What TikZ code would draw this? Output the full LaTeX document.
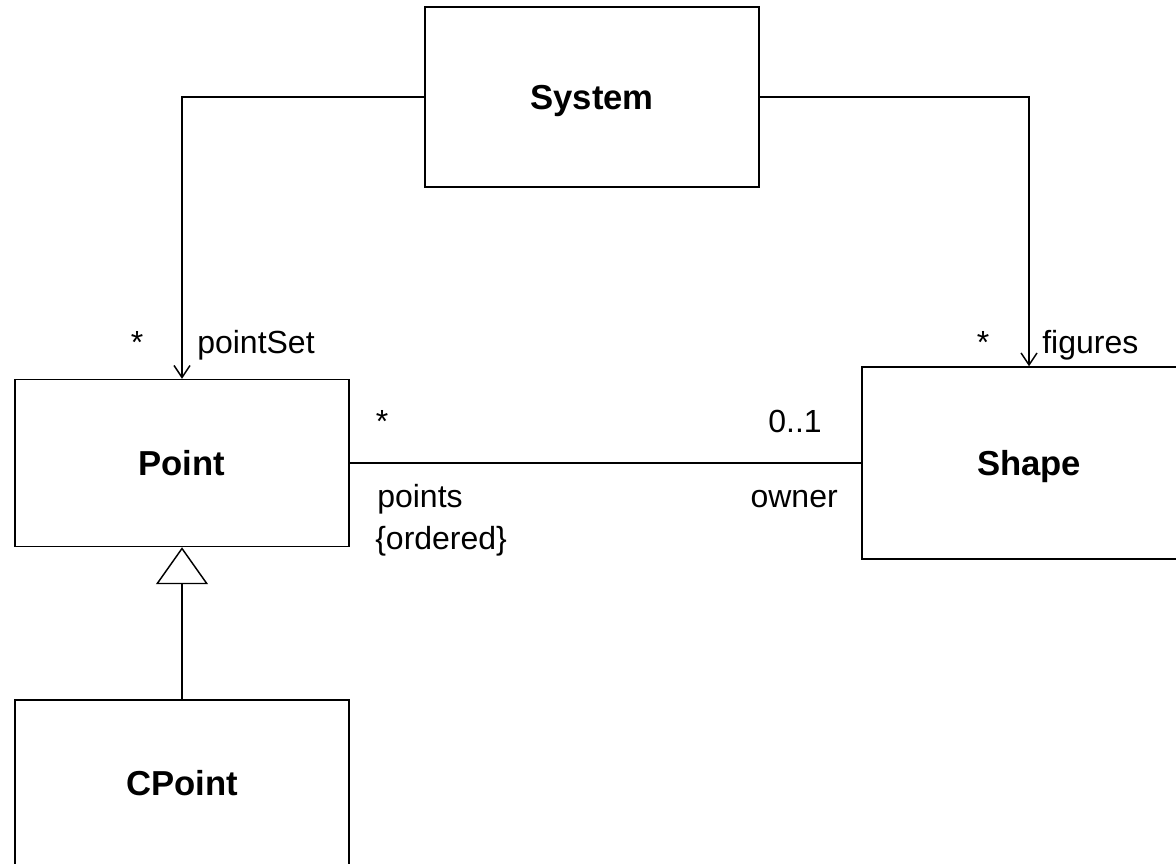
\documentclass[tikz,border=0pt]{standalone}
\usepackage{fontspec}
\setmainfont{Liberation Sans}
\usetikzlibrary{arrows.meta}

\begin{document}
\begin{tikzpicture}[x=0.75pt,y=0.75pt,yscale=-1,xscale=1,
        classbox/.style={draw,line width=1.1pt,inner sep=0pt,minimum width=250.5pt,text height=18.6pt,text depth=0pt,font=\fontsize{26}{31}\selectfont\bfseries},
        rolelbl/.style={inner sep=0pt,font=\fontsize{24}{29}\selectfont},
        navarrow/.style={line width=1.1pt,-{Straight Barb[length=9pt,width=12pt,line width=1.1pt]}},
        inherits/.style={line width=1.1pt,-{Triangle[open,length=27.75pt,width=39pt,line width=1.1pt]}}]
        \clip (0,0) rectangle (1176,863);

        %Classes
        \node (system) [classbox,minimum height=135pt] at (592,97) {System};
        \node (point) [classbox,minimum height=125.25pt] at (182,463) {Point};
        \node (shape) [classbox,minimum height=144pt] at (1029,463) {Shape};
        \node (cpoint) [classbox,minimum height=124.5pt] at (182,783) {CPoint};

        %Associations
        \draw [navarrow] (system.west) -| (point.north);
        \draw [navarrow] (system.east) -| (shape.north);
        \draw [line width=1.1pt] (point.east) -- (shape.west);
        %Generalization
        \draw [inherits] (cpoint.north) -- (point.south);

        % Role names and multiplicities
        \node (pointSetMult) [rolelbl,anchor=base] at (137,353) {*};
        \node (pointSetRole) [rolelbl,anchor=base west] at (197,353) {pointSet};
        \node (figuresMult) [rolelbl,anchor=base] at (983,353) {*};
        \node (figuresRole) [rolelbl,anchor=base west] at (1042,353) {figures};
        \node (pointsMult) [rolelbl,anchor=base] at (382,432) {*};
        \node (ownerMult) [rolelbl,anchor=base east] at (822,432) {0..1};
        \node (pointsRole) [rolelbl,anchor=base west] at (377,507) {points};
        \node (orderedTag) [rolelbl,anchor=base west] at (375,549) {\{ordered\}};
        \node (ownerRole) [rolelbl,anchor=base east] at (838,507) {owner};

\end{tikzpicture}
\end{document}
